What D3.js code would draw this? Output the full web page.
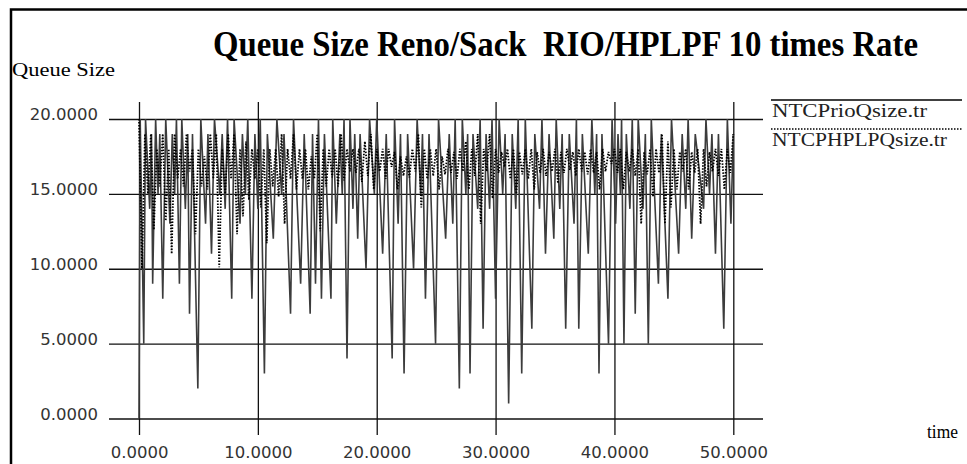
<!DOCTYPE html>
<html>
<head>
<meta charset="utf-8">
<script src="https://cdn.jsdelivr.net/npm/d3@7"></script>
<style>
  html, body { margin: 0; padding: 0; background: #fff; }
  svg { display: block; }
</style>
</head>
<body>
<svg id="chart" width="967" height="464"></svg>
<script>
// Queue size traces (time in seconds, queue size in packets)
const prioTime = [0,0.1,0.4,0.55,0.9,1.05,1.15,1.4,1.6,1.75,
  2.0,2.25,2.6,2.8,3.0,3.15,3.4,3.6,3.9,4.1,
  4.25,4.5,4.95,5.2,5.6,5.8,6.1,6.35,6.8,7.0,
  7.25,7.45,7.8,8.0,8.5,8.7,8.95,9.15,9.5,9.75,
  10.0,10.2,10.55,10.8,11.3,11.6,12.0,12.2,12.75,13.0,
  13.6,13.9,14.4,14.6,14.85,15.1,15.35,15.6,16.15,16.3,
  16.6,16.9,17.1,17.25,17.5,17.75,18.0,18.15,18.4,18.6,
  19.1,19.4,19.8,20.0,20.5,20.8,21.3,21.5,21.8,22.0,
  22.3,22.6,23.1,23.4,23.7,23.85,24.1,24.4,24.95,25.2,
  25.8,26.1,26.4,26.6,26.95,27.2,27.5,27.65,27.85,28.1,
  28.5,28.7,28.95,29.2,29.5,29.7,30.0,30.3,30.6,30.8,
  31.1,31.4,31.7,31.9,32.2,32.5,33.05,33.3,33.7,33.9,
  34.2,34.5,34.9,35.1,35.4,35.6,35.9,36.2,36.6,36.8,
  37.0,37.3,37.8,38.1,38.35,38.5,38.7,38.95,39.5,39.8,
  40.1,40.3,40.5,40.6,40.8,41.0,41.3,41.5,41.75,42.0,
  42.4,42.6,42.85,43.1,43.7,43.95,44.5,44.8,45.4,45.7,
  46.0,46.2,46.5,46.8,47.5,47.7,48.0,48.2,48.5,48.75,
  49.2,49.5,49.8,50.0];
const prioSize = [0,20,5,20,14,19,9,20,15,19,
  8,20,13,19,15,20,9,20,14,19,
  7,19,2,20,13,19,11,20,15,19,
  14,20,8,20,13,19,15,20,8,19,
  14,20,3,19,12,20,15,19,7,20,
  9,19,7,19,9,20,8,19,8,20,
  13,19,15,20,4,20,14,19,12,19,
  10,20,15,20,11,19,4,20,13,19,
  3,19,10,20,15,19,8,19,5,20,
  12,19,13,20,2,20,15,19,3,19,
  14,20,6,19,14,20,8,20,15,19,
  1,19,14,20,3,20,6,19,14,20,
  11,19,12,20,14,19,6,19,13,20,
  6,19,11,20,15,19,3,19,5,20,
  13,19,15,20,5,19,14,20,7,20,
  14,19,5,20,9,19,8,20,11,19,
  14,20,12,19,14,20,15,19,11,19,
  6,20,13,19];

// HPLP queue sampled every 0.25 s from 0 to 50 s
const hplpStep = 0.25;
const hplpSize = [
  20,10,19,15, 19,12.6,18,15.5, 19,13.2,18,11, 19,16,18,15.5, 19,16.5,18,12.3,
  18,15.5,17.5,15.3, 19,16,19,10.1, 18,15,19,16, 19,12.3,18,13.5, 18.5,14.6,18,16,
  18,14.1,18,11.7, 18,15.5,18,14.8, 19,13,18,16, 19,15.3,18,16, 18,15.3,17.5,16,
  19,12.5,18,15.5, 18,16.1,18,15.5, 19,15.9,18,16.5, 18,16.4,18,15.8, 18.5,16.2,19,15.3,
  18,16.5,18,16, 18,16.8,17.8,15.3, 17.5,16.2,17.5,16.1, 18,16.5,19,14.1, 18,16,18,16.2,
  18,15.3,17.5,16.3, 18,16.4,17.8,16, 18,16.5,18.5,15.3, 18,16.2,19,13, 18,16.5,19,14.7,
  18,16.4,17.8,16.8, 18,16,18,15, 17.8,16.3,18,16, 18,15.3,17.8,16.4, 18,16.2,17.8,16.5,
  18,15.7,17.8,16.4, 18,16.6,17.8,16.2, 18,16.5,17.8,16.3, 18,16.4,17.8,15.3, 18,16.5,17.8,17,
  18,16.4,18,15.3, 17.8,16.5,18,16.2, 18,13,17.8,16.3, 18,14.8,18,16.4, 19,13,18.5,14.1,
  18,15.3,17.8,16.5, 18,15.3,17.8,16.4, 18,13,18,15.5, 17.8,16.5,18,16.2, 18,15.3,18,16.4,
  19
];

const xTicks = [0, 10, 20, 30, 40, 50];
const yTicks = [0, 5, 10, 15, 20];
const seriesNames = ["NTCPrioQsize.tr", "NTCPHPLPQsize.tr"];

const svg = d3.select("#chart");

const x = d3.scaleLinear().domain([0, 50]).range([139, 733.3]);
const y = d3.scaleLinear().domain([0, 20]).range([418.5, 119]);

// outer frame
svg.append("rect")
  .attr("x", 11).attr("y", 9.5)
  .attr("width", 980).attr("height", 480)
  .attr("fill", "none").attr("stroke", "#000").attr("stroke-width", 2.5);

// title (tall, narrow serif)
svg.append("text")
  .attr("transform", "translate(213,56) scale(1,1.2)")
  .attr("textLength", 705).attr("lengthAdjust", "spacingAndGlyphs")
  .style("font-family", "'Liberation Serif', 'Times New Roman', serif")
  .style("font-weight", "bold").style("font-size", "30px")
  .style("white-space", "pre")
  .text("Queue Size Reno/Sack  RIO/HPLPF 10 times Rate");

// axis titles
svg.append("text")
  .attr("x", 12).attr("y", 76)
  .attr("textLength", 103).attr("lengthAdjust", "spacingAndGlyphs")
  .style("font-family", "'Liberation Serif', serif").style("font-size", "18px")
  .text("Queue Size");
svg.append("text")
  .attr("x", 927).attr("y", 438)
  .attr("textLength", 31).attr("lengthAdjust", "spacingAndGlyphs")
  .style("font-family", "'Liberation Serif', serif").style("font-size", "18px")
  .text("time");

// horizontal grid lines (y axis ticks)
const yAxis = d3.axisLeft(y).tickValues(yTicks)
  .tickSize(-(763 - 109)).tickSizeOuter(0)
  .tickFormat(d3.format(".4f"));
const gy = svg.append("g").attr("transform", "translate(109,0)").call(yAxis);
gy.select(".domain").remove();
gy.selectAll(".tick line").attr("stroke", "#111").attr("stroke-width", 1.3);
gy.selectAll(".tick text")
  .attr("x", -11).attr("dy", "0.05em")
  .attr("fill", "#333")
  .style("font-family", "'DejaVu Sans', sans-serif").style("font-size", "16.5px");

// vertical grid lines (x axis ticks)
const xAxis = d3.axisBottom(x).tickValues(xTicks)
  .tickSize(-(435 - 102)).tickSizeOuter(0)
  .tickFormat(d3.format(".4f"));
const gx = svg.append("g").attr("transform", "translate(0,435)").call(xAxis);
gx.select(".domain").remove();
gx.selectAll(".tick line").attr("stroke", "#111").attr("stroke-width", 1.3);
gx.selectAll(".tick text")
  .attr("y", 11).attr("dy", "0.71em")
  .attr("fill", "#333")
  .style("font-family", "'DejaVu Sans', sans-serif").style("font-size", "16.5px");

// data traces
const prioData = prioTime.map((t, i) => [t, prioSize[i]]);
const hplpData = hplpSize.map((v, i) => [i * hplpStep, v]);
const line = d3.line().x(d => x(d[0])).y(d => y(d[1]));

svg.append("path").datum(prioData)
  .attr("d", line).attr("fill", "none")
  .attr("stroke", "#3c3c3c").attr("stroke-width", 1.6)
  .attr("stroke-linejoin", "miter");

svg.append("path").datum(hplpData)
  .attr("d", line).attr("fill", "none")
  .attr("stroke", "#000").attr("stroke-width", 1.8)
  .attr("stroke-dasharray", "1.5,1.5");

// legend
const legend = svg.append("g");
legend.append("line").attr("x1", 771).attr("x2", 962).attr("y1", 100).attr("y2", 100)
  .attr("stroke", "#000").attr("stroke-width", 1.3);
legend.append("line").attr("x1", 771).attr("x2", 962).attr("y1", 129).attr("y2", 129)
  .attr("stroke", "#000").attr("stroke-width", 1.3).attr("stroke-dasharray", "1.5,1.5");
legend.append("text").attr("x", 772).attr("y", 117)
  .attr("textLength", 155).attr("lengthAdjust", "spacingAndGlyphs")
  .attr("fill", "#222")
  .style("font-family", "'Liberation Serif', serif").style("font-size", "18px")
  .text(seriesNames[0]);
legend.append("text").attr("x", 772).attr("y", 146)
  .attr("textLength", 175).attr("lengthAdjust", "spacingAndGlyphs")
  .attr("fill", "#222")
  .style("font-family", "'Liberation Serif', serif").style("font-size", "18px")
  .text(seriesNames[1]);
</script>
</body>
</html>
